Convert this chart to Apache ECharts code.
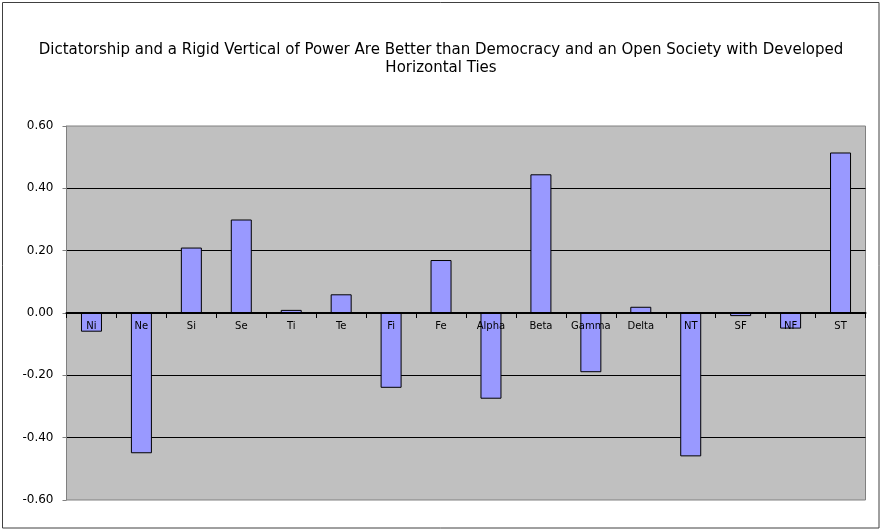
<!DOCTYPE html>
<html>
<head>
<meta charset="utf-8">
<script src="https://cdn.jsdelivr.net/npm/echarts@6/dist/echarts.min.js"></script>
<style>
  html, body { margin: 0; padding: 0; background: #fff; }
  #chart { width: 882px; height: 531px; }
</style>
</head>
<body>
<div id="chart"></div>
<script>
// categories and values
const categories = ['Ni', 'Ne', 'Si', 'Se', 'Ti', 'Te', 'Fi', 'Fe', 'Alpha', 'Beta', 'Gamma', 'Delta', 'NT', 'SF', 'NF', 'ST'];
const values = [-0.06, -0.45, 0.21, 0.30, 0.01, 0.06, -0.24, 0.17, -0.275, 0.445, -0.19, 0.02, -0.46, -0.01, -0.05, 0.515];
const yTicks = { min: -0.6, max: 0.6, step: 0.2 };

const gridTop = 126, gridBottom = 31, chartH = 531;
const gridH = chartH - gridTop - gridBottom;
// shift the category axis up so it sits on the zero line
const zeroOffset = -gridH * (0 - yTicks.min) / (yTicks.max - yTicks.min);

const chart = echarts.init(document.getElementById('chart'));
chart.setOption({
  animation: false,
  backgroundColor: '#fff',
  textStyle: { fontFamily: 'DejaVu Sans' },
  title: {
    text: 'Dictatorship and a Rigid Vertical of Power Are Better than Democracy and an Open Society with Developed\nHorizontal Ties',
    left: 'center',
    top: 41,
    padding: 0,
    textStyle: { fontSize: 15, fontWeight: 'normal', color: '#000', lineHeight: 18, fontFamily: 'DejaVu Sans', align: 'center' }
  },
  graphic: [{
    type: 'rect',
    shape: { x: 2.5, y: 2.5, width: 876.5, height: 525.5 },
    style: { fill: 'none', stroke: '#404040', lineWidth: 1 },
    silent: true
  }],
  grid: {
    left: 66.5, right: 16.5, top: gridTop, bottom: gridBottom,
    show: true,
    backgroundColor: '#C0C0C0',
    borderColor: '#808080',
    borderWidth: 1
  },
  xAxis: {
    type: 'category',
    data: categories,
    z: 10,
    offset: zeroOffset,
    axisLine: { onZero: false, lineStyle: { color: '#000', width: 2 } },
    axisTick: { show: true, length: 5, lineStyle: { color: '#000', width: 1 } },
    axisLabel: { interval: 0, fontSize: 10, color: '#000', margin: 8 },
    splitLine: { show: false }
  },
  yAxis: {
    type: 'value',
    min: yTicks.min,
    max: yTicks.max,
    interval: yTicks.step,
    axisLine: { show: true, lineStyle: { color: '#808080' } },
    axisTick: { show: true, length: 4, lineStyle: { color: '#808080' } },
    axisLabel: {
      fontSize: 12, color: '#000', margin: 13,
      formatter: v => v.toFixed(2)
    },
    splitLine: { show: true, showMinLine: false, showMaxLine: false, lineStyle: { color: '#000', width: 1 } }
  },
  series: [{
    type: 'bar',
    data: values,
    barWidth: 21,
    itemStyle: { color: '#9999FF', borderColor: '#000', borderWidth: 1 }
  }]
});
</script>
</body>
</html>
